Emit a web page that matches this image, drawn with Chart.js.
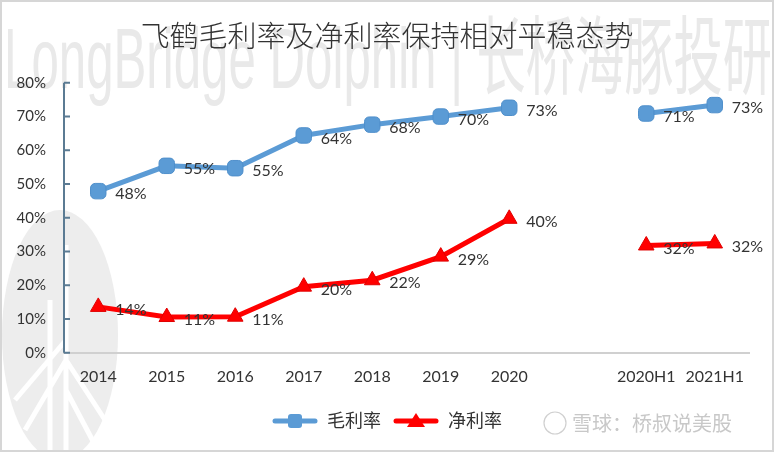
<!DOCTYPE html>
<html>
<head>
<meta charset="utf-8">
<script src="https://cdn.jsdelivr.net/npm/chart.js@4"></script>
<style>
  html, body { margin: 0; padding: 0; background: #fff; }
  #wrap { width: 774px; height: 452px; }
</style>
</head>
<body>
<div id="wrap"><canvas id="myChart" width="774" height="452"></canvas></div>
<script>
// data (percent)
const categories = ['2014', '2015', '2016', '2017', '2018', '2019', '2020', '', '2020H1', '2021H1'];
const grossMargin = [47.9, 55.4, 54.7, 64.4, 67.6, 70.0, 72.6, null, 70.9, 73.4];
const netMargin = [13.6, 10.6, 10.7, 19.6, 21.5, 28.5, 39.7, null, 31.8, 32.4];
const yTicks = [0, 10, 20, 30, 40, 50, 60, 70, 80];

const FONT = "Lato, 'Noto Sans CJK SC', sans-serif";
const BLUE = '#5b9bd5';
const RED = '#ff0000';

// legend icons: line + marker
function legendIcon(color, border, shape) {
    const c = document.createElement('canvas');
    c.width = 46; c.height = 18;
    const g = c.getContext('2d');
    g.strokeStyle = color;
    g.lineWidth = 5;
    g.lineCap = 'round';
    g.beginPath(); g.moveTo(3, 9); g.lineTo(43, 9); g.stroke();
    g.fillStyle = color;
    if (shape === 'rect') {
        g.beginPath(); g.roundRect(16, 2, 14, 14, 3); g.fill();
    } else {
        g.beginPath(); g.moveTo(23, 1); g.lineTo(32, 15); g.lineTo(14, 15); g.closePath(); g.fill();
    }
    return c;
}

const backdrop = {
    id: 'backdrop',
    beforeDraw(chart) {
        const c = chart.ctx;
        c.save();
        c.fillStyle = '#fff';
        c.fillRect(0, 0, chart.width, chart.height);
        // watermark
        c.fillStyle = '#e9e9e9';
        c.font = "86px 'Liberation Sans', 'Noto Sans CJK SC', sans-serif";
        c.textBaseline = 'alphabetic';
        const wm = 'LongBridge Dolphin | 长桥海豚投研';
        const w = c.measureText(wm).width;
        c.save();
        c.translate(4, 88);
        c.scale(768 / w, 1);
        c.fillText(wm, 0, 0);
        c.restore();
        // logo blob bottom-left
        c.fillStyle = '#ededed';
        c.beginPath();
        c.ellipse(60, 335, 58, 125, 0, 0, Math.PI * 2);
        c.fill();
        c.strokeStyle = '#fff';
        c.lineWidth = 5;
        c.beginPath();
        c.moveTo(66, 245); c.lineTo(66, 452);
        c.moveTo(50, 300); c.lineTo(50, 452);
        c.moveTo(66, 340); c.lineTo(15, 400);
        c.moveTo(66, 360); c.lineTo(25, 430);
        c.moveTo(66, 360); c.lineTo(105, 420);
        c.moveTo(66, 390); c.lineTo(95, 445);
        c.stroke();
        c.fillStyle = '#c8c8c8';
        c.font = "20px 'Noto Sans CJK SC', sans-serif";
        c.textAlign = 'left';
        c.textBaseline = 'middle';
        c.fillText('雪球：桥叔说美股', 572, 423);
        c.strokeStyle = '#d0d0d0';
        c.lineWidth = 1.2;
        c.beginPath(); c.arc(555, 423, 11, 0, Math.PI * 2); c.stroke();
        c.restore();
    },
    afterDatasetsDraw(chart) {
        const c = chart.ctx;
        c.save();
        c.font = '16px ' + FONT;
        c.fillStyle = '#333';
        c.textAlign = 'left';
        c.textBaseline = 'middle';
        chart.data.datasets.forEach((ds, i) => {
            chart.getDatasetMeta(i).data.forEach((pt, j) => {
                const v = ds.data[j];
                if (v === null) return;
                c.fillText(Math.round(v) + '%', pt.x + 17, pt.y + 3);
            });
        });
        // inner tick marks on y axis
        const y = chart.scales.y;
        c.strokeStyle = '#5b7b93';
        c.lineWidth = 2;
        c.beginPath();
        c.moveTo(y.right, y.top); c.lineTo(y.right, y.bottom);
        yTicks.forEach(t => {
            const py = y.getPixelForValue(t);
            c.moveTo(y.right, py); c.lineTo(y.right + 6, py);
        });
        c.stroke();
        c.restore();
    },
    afterDraw(chart) {
        const c = chart.ctx;
        c.save();
        c.strokeStyle = '#d6d6d6';
        c.lineWidth = 2;
        c.strokeRect(1, 1, chart.width - 2, chart.height - 2);
        c.restore();
    }
};

const ctx = document.getElementById('myChart').getContext('2d');

const data = {
    labels: categories,
    datasets: [{
        label: '毛利率',
        data: grossMargin,
        borderColor: BLUE,
        backgroundColor: BLUE,
        borderWidth: 5,
        pointStyle: 'rectRounded',
        pointRadius: 9,
        pointBorderColor: '#4f8fcb',
        pointBorderWidth: 1,
        pointBackgroundColor: BLUE,
        tension: 0,
        spanGaps: false
    }, {
        label: '净利率',
        data: netMargin,
        borderColor: RED,
        backgroundColor: RED,
        borderWidth: 5,
        pointStyle: 'triangle',
        pointRadius: 9,
        pointBorderColor: '#e00000',
        pointBorderWidth: 1,
        pointBackgroundColor: RED,
        tension: 0,
        spanGaps: false
    }]
};

const icons = [legendIcon(BLUE, '#4f8fcb', 'rect'), legendIcon(RED, '#e00000', 'tri')];

const config = {
    type: 'line',
    data: data,
    options: {
        responsive: false,
        animation: false,
        layout: {
            padding: { left: 0, right: 0, top: 0, bottom: 12 }
        },
        scales: {
            x: {
                offset: true,
                grid: {
                    display: false,
                    drawTicks: false
                },
                border: {
                    color: '#d0d0d0',
                    width: 2
                },
                ticks: {
                    autoSkip: false,
                    maxRotation: 0,
                    padding: 14,
                    color: '#333',
                    font: { family: FONT, size: 16 }
                }
            },
            y: {
                min: 0,
                max: 80,
                afterFit: function(scale) { scale.width = 64; },
                afterBuildTicks: function(scale) {
                    scale.ticks = yTicks.map(v => ({ value: v }));
                },
                grid: {
                    display: false,
                    drawTicks: false
                },
                border: {
                    display: false
                },
                ticks: {
                    padding: 18,
                    color: '#333',
                    font: { family: FONT, size: 15 },
                    callback: function(value) {
                        return value + '%';
                    }
                }
            },
            // blank right-hand spacer so the plot ends where the reference does
            yRight: {
                position: 'right',
                min: 0,
                max: 80,
                afterFit: function(scale) { scale.width = 25; },
                grid: { display: false, drawTicks: false },
                border: { display: false },
                ticks: { display: false }
            }
        },
        plugins: {
            title: {
                display: true,
                text: '飞鹤毛利率及净利率保持相对平稳态势',
                color: '#333',
                font: { family: "'Noto Sans CJK SC', sans-serif", size: 29, weight: '300' },
                padding: { top: 19, bottom: 29 }
            },
            legend: {
                display: true,
                position: 'bottom',
                labels: {
                    usePointStyle: true,
                    pointStyleWidth: 46,
                    boxHeight: 18,
                    color: '#333',
                    padding: 12,
                    font: { family: FONT, size: 18 },
                    generateLabels: function(chart) {
                        return chart.data.datasets.map((ds, i) => ({
                            text: ds.label,
                            pointStyle: icons[i],
                            fillStyle: ds.backgroundColor,
                            strokeStyle: ds.borderColor,
                            lineWidth: 0,
                            datasetIndex: i,
                            fontColor: '#333'
                        }));
                    }
                }
            },
            tooltip: { enabled: false }
        }
    },
    plugins: [backdrop]
};

const myChart = new Chart(ctx, config);
</script>
</body>
</html>
